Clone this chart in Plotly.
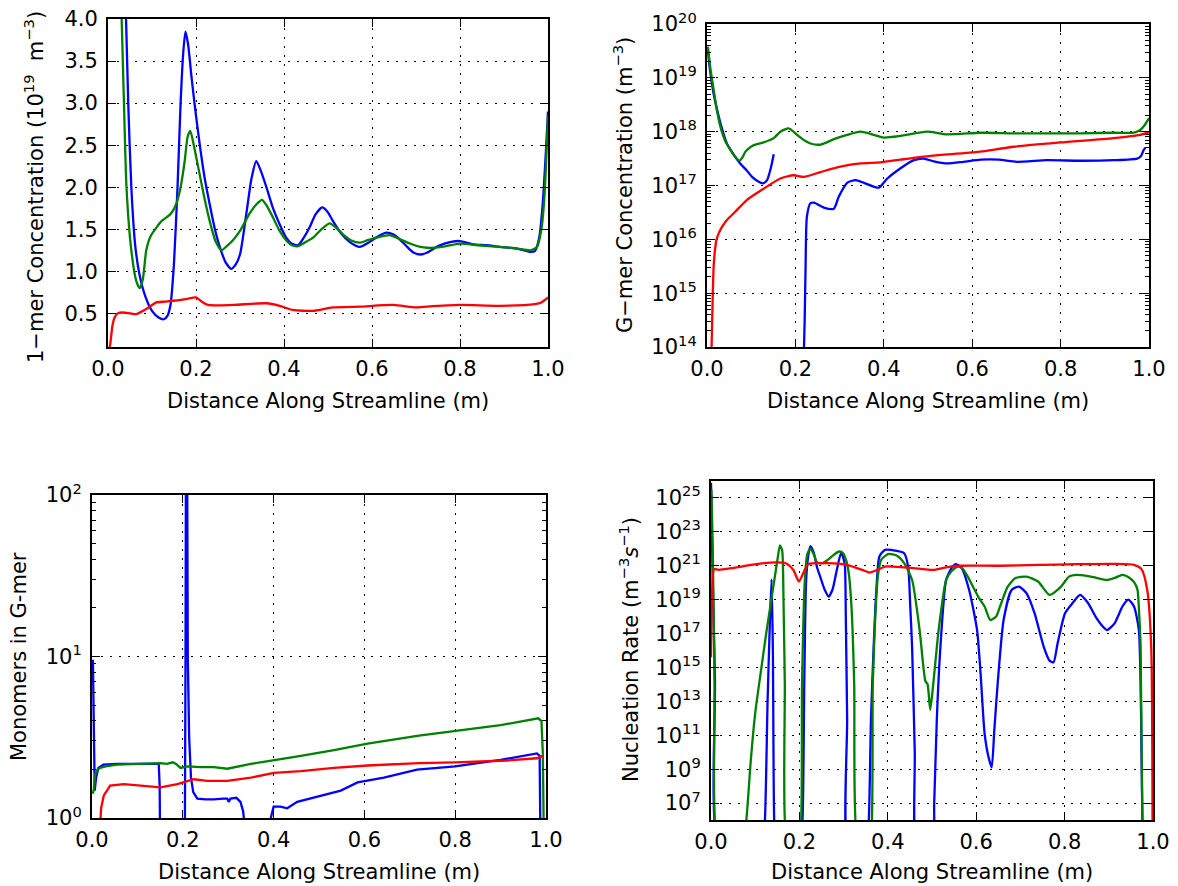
import plotly.graph_objects as go

FONT = "DejaVu Sans"
BLUE, GREEN, RED = "#0000ff", "#008000", "#ff0000"

# ---------------- Panel 1: 1-mer concentration (1e19 m^-3) ----------------
p1_blue_x = [0.04, 0.046, 0.053, 0.062, 0.072, 0.085, 0.1, 0.115, 0.127, 0.135, 0.142, 0.15, 0.158, 0.165,
             0.171, 0.176, 0.182, 0.19, 0.2, 0.21, 0.22, 0.231, 0.243, 0.254, 0.268, 0.28, 0.29, 0.3, 0.314,
             0.326, 0.337, 0.347, 0.36, 0.375, 0.39, 0.405, 0.417, 0.432, 0.445, 0.458, 0.472, 0.487, 0.5,
             0.511, 0.53, 0.549, 0.572, 0.595, 0.615, 0.633, 0.648, 0.663, 0.68, 0.695, 0.71, 0.725, 0.75,
             0.78, 0.8, 0.83, 0.86, 0.89, 0.93, 0.96, 0.97, 0.98, 0.988, 0.995, 1.0]
p1_blue_y = [4.2, 3.0, 2.0, 1.3, 0.95, 0.7, 0.53, 0.45, 0.43, 0.47, 0.6, 1.1, 2.0, 3.0,
             3.6, 3.85, 3.7, 3.3, 2.85, 2.45, 2.1, 1.8, 1.5, 1.29, 1.1, 1.03, 1.08, 1.2, 1.67,
             2.1, 2.31, 2.2, 2.0, 1.75, 1.56, 1.4, 1.33, 1.31, 1.4, 1.52, 1.68, 1.76, 1.7,
             1.6, 1.45, 1.35, 1.29, 1.35, 1.42, 1.46, 1.44, 1.38, 1.29, 1.22, 1.2, 1.22, 1.3,
             1.35, 1.36, 1.32, 1.31, 1.29, 1.27, 1.23, 1.24, 1.4, 1.8, 2.4, 2.9]

p1_green_x = [0.03, 0.036, 0.042, 0.053, 0.064, 0.072, 0.079, 0.087, 0.097, 0.11, 0.122, 0.133, 0.145,
              0.155, 0.165, 0.174, 0.181, 0.187, 0.195, 0.208, 0.22, 0.231, 0.245, 0.258, 0.27, 0.284,
              0.3, 0.322, 0.338, 0.35, 0.362, 0.375, 0.39, 0.405, 0.418, 0.432, 0.45, 0.466, 0.485,
              0.504, 0.52, 0.534, 0.552, 0.572, 0.59, 0.61, 0.64, 0.66, 0.686, 0.71, 0.725, 0.76, 0.8,
              0.84, 0.89, 0.93, 0.96, 0.975, 0.985, 0.992, 1.0]
p1_green_y = [4.2, 3.05, 2.0, 1.25, 0.89, 0.80, 0.9, 1.25, 1.42, 1.52, 1.6, 1.64, 1.7,
              1.8, 2.0, 2.3, 2.6, 2.67, 2.5, 2.16, 1.85, 1.6, 1.35, 1.25, 1.3, 1.37,
              1.48, 1.69, 1.8, 1.85, 1.77, 1.64, 1.48, 1.37, 1.31, 1.30, 1.35, 1.40, 1.5,
              1.57, 1.51, 1.44, 1.37, 1.34, 1.37, 1.40, 1.43, 1.39, 1.33, 1.29, 1.28, 1.29, 1.33,
              1.31, 1.29, 1.27, 1.25, 1.29, 1.5, 1.9, 2.85]

p1_red_x = [0.0, 0.004, 0.01, 0.015, 0.022, 0.034, 0.05, 0.064, 0.08, 0.095, 0.11, 0.13, 0.148, 0.178,
            0.2, 0.213, 0.227, 0.284, 0.36, 0.39, 0.42, 0.466, 0.511, 0.572, 0.648, 0.7, 0.725, 0.8,
            0.89, 0.97, 0.985, 1.0]
p1_red_y = [0.05, 0.1, 0.35, 0.45, 0.5, 0.51, 0.5, 0.49, 0.53, 0.58, 0.63, 0.64, 0.65, 0.67,
            0.69, 0.64, 0.60, 0.60, 0.62, 0.59, 0.54, 0.53, 0.57, 0.58, 0.60, 0.57, 0.58, 0.60,
            0.59, 0.61, 0.63, 0.69]

# ---------------- Panel 2: G-mer concentration (log10 of m^-3) ----------------
p2_blue_x = [0.002, 0.006, 0.011, 0.017, 0.023, 0.033, 0.045, 0.06, 0.075, 0.09, 0.102, 0.115, 0.127,
             0.136, 0.142, 0.147, 0.151, None,
             0.218, 0.221, 0.223, 0.226, 0.234, 0.242, 0.264, 0.287, 0.298, 0.317, 0.336, 0.355, 0.377,
             0.389, 0.408, 0.438, 0.468, 0.49, 0.513, 0.543, 0.58, 0.619, 0.66, 0.701, 0.769, 0.845,
             0.92, 0.973, 0.982, 0.988, 0.992]
p2_blue_exp = [19.52, 19.2, 18.9, 18.62, 18.4, 18.08, 17.78, 17.58, 17.41, 17.28, 17.16, 17.08, 17.04,
               17.1, 17.25, 17.42, 17.58, None,
               13.5, 14.5, 15.49, 16.42, 16.67, 16.68, 16.59, 16.57, 16.79, 17.05, 17.1, 17.05, 16.98,
               16.96, 17.13, 17.32, 17.47, 17.50, 17.45, 17.41, 17.44, 17.48, 17.48, 17.44, 17.47, 17.46,
               17.47, 17.5, 17.55, 17.66, 17.70]

p2_green_x = [0.002, 0.008, 0.015, 0.022, 0.03, 0.04, 0.053, 0.065, 0.074, 0.08, 0.087, 0.096, 0.106,
              0.128, 0.151, 0.166, 0.185, 0.204, 0.22, 0.234, 0.257, 0.287, 0.317, 0.347, 0.37, 0.4,
              0.438, 0.498, 0.543, 0.619, 0.694, 0.77, 0.845, 0.92, 0.966, 0.98, 0.99, 1.0]
p2_green_exp = [19.58, 19.15, 18.78, 18.42, 18.1, 17.85, 17.66, 17.52, 17.46, 17.52, 17.63, 17.7, 17.75,
                17.80, 17.88, 18.0, 18.06, 17.94, 17.84, 17.78, 17.76, 17.86, 17.94, 18.0, 17.96, 17.89,
                17.92, 18.0, 17.95, 17.98, 17.97, 17.97, 17.97, 17.98, 17.98, 18.03, 18.12, 18.25]

p2_red_x = [0.009, 0.012, 0.015, 0.018, 0.021, 0.027, 0.034, 0.045, 0.06, 0.09, 0.128, 0.166, 0.196,
            0.219, 0.257, 0.302, 0.347, 0.392, 0.438, 0.506, 0.581, 0.618, 0.694, 0.8, 0.92, 0.98, 1.0]
p2_red_exp = [13.5, 14.6, 15.49, 15.8, 15.98, 16.12, 16.23, 16.36, 16.48, 16.73, 16.94, 17.13, 17.19,
              17.16, 17.25, 17.35, 17.41, 17.43, 17.48, 17.55, 17.6, 17.63, 17.72, 17.8, 17.88, 17.94, 17.99]

# ---------------- Panel 3: Monomers in G-mer (log10) ----------------
p3_blue_x = [0.002, 0.004, 0.006, 0.009, 0.014, 0.025, 0.055, 0.147, 0.149, 0.151, 0.204, 0.206, 0.207,
             0.2095, 0.211, 0.214, 0.218, 0.223, 0.232, 0.25, 0.268, 0.29, 0.298, 0.301, 0.305, 0.318,
             0.327, 0.333, 0.338, 0.36, 0.385, 0.392, 0.40, 0.415, 0.43, 0.452, 0.496, 0.548, 0.585,
             0.643, 0.716, 0.8, 0.9, 0.98, 0.986, 0.988, 0.989]
p3_blue_exp = [0.98, 0.5, 0.17, 0.25, 0.31, 0.33, 0.335, 0.335, 0.2, -0.5, -0.5, 1.0, 2.3,
               2.3, 1.0, 0.5, 0.25, 0.16, 0.12, 0.115, 0.115, 0.12, 0.12, 0.10, 0.12, 0.125,
               0.10, 0.04, -0.1, -0.5, -0.5, -0.02, 0.07, 0.07, 0.06, 0.10, 0.13, 0.17, 0.22,
               0.25, 0.30, 0.32, 0.36, 0.40, 0.385, 0.0, -0.5]

p3_green_x = [0.002, 0.004, 0.007, 0.012, 0.018, 0.03, 0.055, 0.107, 0.151, 0.165, 0.178, 0.185, 0.195,
              0.21, 0.239, 0.268, 0.298, 0.35, 0.401, 0.46, 0.533, 0.607, 0.72, 0.8, 0.9, 0.983, 0.99,
              0.993, 0.996]
p3_green_exp = [0.15, 0.18, 0.27, 0.3, 0.31, 0.32, 0.33, 0.335, 0.34, 0.335, 0.345, 0.335, 0.31,
                0.32, 0.315, 0.315, 0.305, 0.335, 0.36, 0.385, 0.42, 0.46, 0.51, 0.54, 0.575, 0.617, 0.60,
                0.4, -0.3]

p3_red_x = [0.017, 0.02, 0.026, 0.04, 0.07, 0.107, 0.151, 0.188, 0.224, 0.254, 0.298, 0.35, 0.401,
            0.46, 0.533, 0.607, 0.72, 0.8, 0.914, 0.98, 0.993]
p3_red_exp = [-0.1, 0.06, 0.14, 0.2, 0.21, 0.2, 0.19, 0.21, 0.24, 0.23, 0.23, 0.25, 0.28,
              0.29, 0.31, 0.325, 0.34, 0.345, 0.356, 0.37, 0.385]

# ---------------- Panel 4: Nucleation rate (log10 of m^-3 s^-1) ----------------
p4_blue_x = [0.0, 0.004, 0.009, 0.013, 0.05, 0.115, 0.122, 0.128, 0.133, 0.137, 0.14, 0.143, 0.148,
             0.2, 0.207, 0.211, 0.215, 0.22, 0.225, 0.232, 0.24, 0.247, 0.257, 0.266, 0.275, 0.285,
             0.294, 0.299, 0.303, 0.305, 0.308, 0.312, 0.35, 0.357, 0.362, 0.368, 0.374, 0.381, 0.394,
             0.42, 0.437, 0.446, 0.451, 0.455, 0.461, 0.467, 0.5, 0.505, 0.511, 0.519, 0.532, 0.545,
             0.554, 0.567, 0.584, 0.602, 0.61, 0.619, 0.628, 0.635, 0.641, 0.649, 0.662, 0.68, 0.697,
             0.714, 0.732, 0.753, 0.766, 0.775, 0.784, 0.801, 0.818, 0.835, 0.853, 0.87, 0.887, 0.896,
             0.913, 0.931, 0.944, 0.957, 0.968, 0.973, 0.976, 0.98]
p4_blue_exp = [25.9, 20, 14.2, 5, 4, 4, 6, 13, 17.5, 20.2, 16, 6, 4,
               4, 6, 14, 20, 21.6, 22.15, 21.8, 20.9, 20.36, 19.6, 19.18, 19.6, 20.8,
               21.74, 21.5, 20.95, 18, 12, 4, 4, 6, 12, 16.2, 19.5, 21.55, 21.94,
               21.88, 21.74, 20.95, 18.5, 16.2, 10, 4, 4, 7, 12, 16.2, 20.16, 20.9,
               21.1, 20.86, 19.57, 17.2, 14.6, 11.1, 9.7, 9.1, 11.3, 14.2, 17.8, 19.57, 19.77,
               19.37, 18.2, 16.2, 15.4, 15.3, 16.4, 18.2, 18.8, 19.28, 18.8, 18.0, 17.4, 17.2,
               17.6, 18.6, 19.0, 18.6, 17.2, 12.3, 6, 4]

p4_green_x = [0.001, 0.004, 0.008, 0.011, 0.03, 0.07, 0.08, 0.09, 0.1, 0.113, 0.126, 0.14, 0.15, 0.156,
              0.161, 0.164, 0.167, 0.17, 0.19, 0.202, 0.206, 0.212, 0.218, 0.225, 0.232, 0.24, 0.252,
              0.264, 0.278, 0.29, 0.299, 0.306, 0.312, 0.318, 0.324, 0.33, 0.35, 0.362, 0.366, 0.372,
              0.378, 0.385, 0.395, 0.403, 0.42, 0.437, 0.455, 0.472, 0.485, 0.49, 0.496, 0.502, 0.515,
              0.532, 0.545, 0.558, 0.567, 0.58, 0.593, 0.606, 0.619, 0.632, 0.645, 0.654, 0.671, 0.688,
              0.714, 0.74, 0.766, 0.792, 0.81, 0.827, 0.85, 0.87, 0.896, 0.915, 0.931, 0.948, 0.958,
              0.965, 0.969, 0.972, 0.976, 0.98]
p4_green_exp = [25.5, 22, 14, 5, 4, 4, 6, 9.5, 12.3, 14.8, 17.2, 19.6, 21.3, 22.2,
                21.9, 19, 14, 5, 4, 5, 14, 20, 21.7, 22.0, 21.7, 21.2, 21.15,
                21.35, 21.65, 21.84, 21.74, 21.3, 20.5, 18.5, 14, 5, 4, 5, 14, 18.2,
                20.5, 21.35, 21.6, 21.7, 21.6, 21.15, 20.16, 17.2, 14.2, 14.0, 12.5, 13.8, 17.2,
                20.16, 20.7, 20.95, 20.9, 20.4, 19.75, 19.1, 18.6, 17.8, 18.0, 18.6, 19.75, 20.26,
                20.36, 20.07, 19.28, 19.77, 20.36, 20.46, 20.4, 20.3, 20.16, 20.3, 20.46, 20.26, 20.0,
                19.57, 18, 16.2, 6, 4]

p4_red_x = [0.0, 0.002, 0.007, 0.017, 0.048, 0.091, 0.134, 0.169, 0.186, 0.199, 0.212, 0.221, 0.264,
            0.307, 0.342, 0.359, 0.377, 0.394, 0.437, 0.48, 0.506, 0.541, 0.567, 0.654, 0.74, 0.827,
            0.913, 0.957, 0.974, 0.987, 0.996, 0.999]
p4_red_exp = [15.6, 19.0, 20.8, 20.76, 20.86, 21.05, 21.19, 21.15, 20.76, 20.07, 20.76, 21.11, 21.15,
              21.05, 20.76, 20.6, 20.76, 20.95, 20.9, 20.8, 20.76, 20.95, 21.0, 21.0, 21.05, 21.09,
              21.11, 21.05, 20.8, 19.57, 16.2, 5.0]

# tick labels
x_ticks = [0.0, 0.2, 0.4, 0.6, 0.8, 1.0]
x_ticktext = ["0.0", "0.2", "0.4", "0.6", "0.8", "1.0"]
p1_yticks = [0.5, 1.0, 1.5, 2.0, 2.5, 3.0, 3.5, 4.0]
p1_yticktext = ["0.5", "1.0", "1.5", "2.0", "2.5", "3.0", "3.5", "4.0"]
p2_yexp = [14, 15, 16, 17, 18, 19, 20]
p3_yexp = [0, 1, 2]
p4_yexp = [7, 9, 11, 13, 15, 17, 19, 21, 23, 25]


def pw(e):
    return [None if v is None else 10.0 ** v for v in e]


fig = go.Figure()

traces = [
    (1, p1_blue_x, p1_blue_y, BLUE), (1, p1_green_x, p1_green_y, GREEN), (1, p1_red_x, p1_red_y, RED),
    (2, p2_blue_x, pw(p2_blue_exp), BLUE), (2, p2_green_x, pw(p2_green_exp), GREEN), (2, p2_red_x, pw(p2_red_exp), RED),
    (3, p3_blue_x, pw(p3_blue_exp), BLUE), (3, p3_green_x, pw(p3_green_exp), GREEN), (3, p3_red_x, pw(p3_red_exp), RED),
    (4, p4_blue_x, pw(p4_blue_exp), BLUE), (4, p4_green_x, pw(p4_green_exp), GREEN), (4, p4_red_x, pw(p4_red_exp), RED),
]
for k, xs, ys, c in traces:
    suf = "" if k == 1 else str(k)
    shape = "linear" if k == 3 else "spline"
    fig.add_trace(go.Scatter(x=xs, y=ys, mode="lines", xaxis="x" + suf, yaxis="y" + suf,
                             line=dict(color=c, width=2.3, shape=shape, smoothing=0.6),
                             showlegend=False, hoverinfo="skip"))

# The page body adds an 8px margin, so the figure is drawn 8px smaller and every
# target page position is shifted by that offset.
OFF = 8
W, H = 1178 - OFF, 886 - OFF
# panel boxes in page pixels: left, right, top, bottom
boxes = {1: (108, 548, 19, 347), 2: (707, 1149, 24, 347), 3: (92, 546, 495, 818), 4: (711, 1153, 481, 820)}


def px(x):
    return (x - OFF) / W


def py(y):
    return 1 - (y - OFF) / H


common = dict(showline=True, linecolor="black", linewidth=2, mirror="ticks", ticks="inside",
              ticklen=8, tickwidth=1.3, tickcolor="black", showgrid=True, gridcolor="black",
              griddash="2px,7px", gridwidth=1, zeroline=False, automargin=False,
              ticklabeloverflow="allow",
              tickfont=dict(family=FONT, size=21, color="black"))


def sup_labels(exps):
    return ["10<sup>%d</sup>" % e for e in exps]


def minor_vals(exps):
    vals = []
    for e in exps[:-1]:
        vals += [m * 10.0 ** e for m in range(2, 10)]
    return vals


layout = dict(width=W, height=H, autosize=False, margin=dict(l=0, r=0, t=0, b=0),
              paper_bgcolor="white", plot_bgcolor="white", font=dict(family=FONT, color="black"))
for k, (l, r, t, b) in boxes.items():
    suf = "" if k == 1 else str(k)
    xdom = [px(l), px(r)]
    ydom = [py(b), py(t)]
    xa = dict(common, domain=xdom, range=[0, 1], tickmode="array", tickvals=x_ticks, ticktext=x_ticktext,
              anchor="y" + suf, ticklabelstandoff=2)
    if k == 1:
        ya = dict(common, domain=ydom, range=[0.1, 4.0], tickmode="array", tickvals=p1_yticks,
                  ticktext=p1_yticktext, anchor="x")
    elif k == 2:
        ya = dict(common, domain=ydom, type="log", range=[14, 20], tickmode="array",
                  tickvals=[10.0 ** e for e in p2_yexp], ticktext=sup_labels(p2_yexp), anchor="x2",
                  minor=dict(tickmode="array", tickvals=minor_vals(p2_yexp), ticks="inside", ticklen=4,
                             tickcolor="black", showgrid=False))
    elif k == 3:
        ya = dict(common, domain=ydom, type="log", range=[0, 2], tickmode="array",
                  tickvals=[10.0 ** e for e in p3_yexp], ticktext=sup_labels(p3_yexp), anchor="x3",
                  minor=dict(tickmode="array", tickvals=minor_vals(p3_yexp), ticks="inside", ticklen=4,
                             tickcolor="black", showgrid=False))
    else:
        ya = dict(common, domain=ydom, type="log", range=[6, 26], tickmode="array",
                  tickvals=[10.0 ** e for e in p4_yexp], ticktext=sup_labels(p4_yexp), anchor="x4")
    ya["ticklabelstandoff"] = 4
    layout["xaxis" + suf] = xa
    layout["yaxis" + suf] = ya

TITLE = 21
ann = []
xt = "Distance Along Streamline (m)"
for k, (l, r, t, b) in boxes.items():
    ycen = {1: 401, 2: 401, 3: 872, 4: 872}[k]
    ann.append(dict(text=xt, x=px((l + r) / 2), y=py(ycen), xref="paper", yref="paper",
                    showarrow=False, xanchor="center", yanchor="middle",
                    font=dict(family=FONT, size=TITLE, color="black")))
ytitles = [
    ("1\u2212mer Concentration (10<sup>19</sup>\u00a0\u00a0m<sup>\u22123</sup>)", 34, 187),
    ("G\u2212mer Concentration (m<sup>\u22123</sup>)", 623, 185),
    ("Monomers in G-mer", 19, 657),
    ("Nucleation Rate (m<sup>\u22123</sup><i>s</i><sup>\u22121</sup>)", 629, 650),
]
for txt, xc, yc in ytitles:
    ann.append(dict(text=txt, x=px(xc), y=py(yc), xref="paper", yref="paper", showarrow=False,
                    xanchor="center", yanchor="middle", textangle=-90,
                    font=dict(family=FONT, size=TITLE, color="black")))
layout["annotations"] = ann

fig.update_layout(**layout)
fig.write_html("out.html")
